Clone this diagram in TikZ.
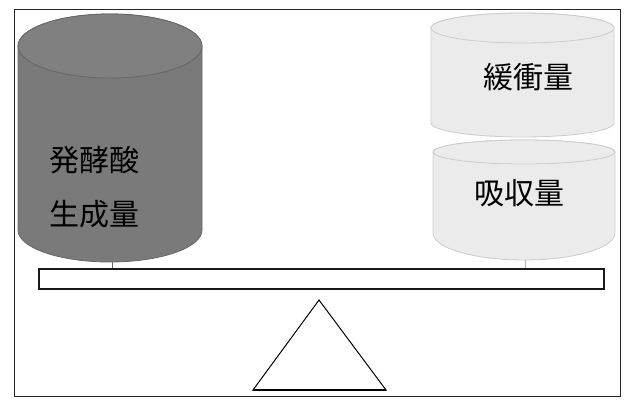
\documentclass[tikz,border=0pt]{standalone}
\usepackage{fontspec}
\newfontfamily\cjk{Noto Sans CJK JP}
\begin{document}
\begin{tikzpicture}[x=1pt,y=-1pt,
  darkcyl/.style={fill=black!52, draw=black!60, line width=0.8pt},
  lightcyl/.style={fill=black!8, draw=black!20, line width=0.8pt},
  lbl/.style={font=\cjk\fontsize{30}{54}\selectfont, align=center, inner sep=0pt},
  frame/.style={draw=black!85, line width=0.8pt}]
\useasboundingbox (0,0) rectangle (626,399);
\fill[white] (0,0) rectangle (626,399);
\draw[frame] (14,9) rectangle (620,396);
% left cylinder
\path[darkcyl] (18,46) -- (18,230) arc[start angle=180,end angle=0,x radius=92,y radius=32] -- (202,46) arc[start angle=0,end angle=-180,x radius=92,y radius=32] -- cycle;
\draw[darkcyl, fill=black!50] (110,46) ellipse[x radius=92,y radius=32];
% upper right cylinder
\path[lightcyl] (431,28) -- (431,123) arc[start angle=180,end angle=0,x radius=91.5,y radius=14] -- (614,28) arc[start angle=0,end angle=-180,x radius=91.5,y radius=15] -- cycle;
\draw[lightcyl] (522.5,28) ellipse[x radius=91.5,y radius=15];
% lower right cylinder
\path[lightcyl] (433,152) -- (433,233) arc[start angle=180,end angle=0,x radius=91,y radius=27] -- (615,152) arc[start angle=0,end angle=-180,x radius=91,y radius=12] -- cycle;
\draw[lightcyl] (524,152) ellipse[x radius=91,y radius=12];
% labels
\node[lbl] (acid) at (94,187) {発酵酸\\生成量};
\node[lbl] (buffer) at (528,77) {緩衝量};
\node[lbl] (absorb) at (519,193) {吸収量};
% beam
\node[draw=black!90, line width=1.6pt, minimum width=565pt, minimum height=20pt, inner sep=0pt, anchor=north west] (beam) at (38,268) {};
% connectors cylinder to beam
\coordinate (lbot) at (112,262);
\coordinate (rbot) at (525,260);
\draw[black!60, line width=0.8pt] (lbot) -- (lbot |- beam.north);
\draw[black!30, line width=0.8pt] (rbot) -- (rbot |- beam.north);
% fulcrum
\coordinate (apex) at (319,300);
\coordinate (bl) at (253,390);
\coordinate (br) at (386,390);
\draw[line width=1pt, line join=miter] (apex) -- (br) -- (bl) -- cycle;
\draw[line width=2pt] (bl) -- (br);
\end{tikzpicture}
\end{document}
